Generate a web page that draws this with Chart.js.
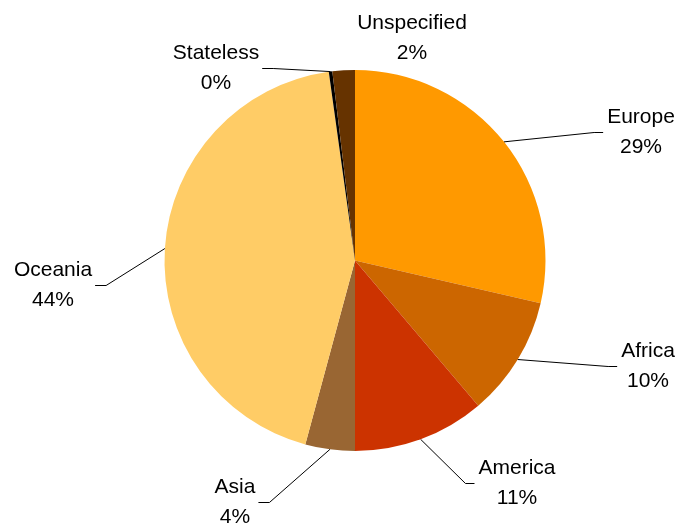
<!DOCTYPE html>
<html>
<head>
<meta charset="utf-8">
<script src="https://cdn.jsdelivr.net/npm/chart.js@4/dist/chart.umd.min.js"></script>
<style>
  html, body { margin: 0; padding: 0; background: #fff; }
  #wrap { width: 681px; height: 525px; }
</style>
</head>
<body>
<div id="wrap"><canvas id="pie"></canvas></div>
<script>
const regions = ['Europe', 'Africa', 'America', 'Asia', 'Oceania', 'Stateless', 'Unspecified'];
const shares = [28.6, 10.2, 11.2, 4.2, 43.6, 0.3, 1.9];
const sliceColors = ['#FF9900', '#CC6600', '#CC3300', '#996633', '#FFCC66', '#000000', '#663300'];

// where each label block sits, relative to the pie centre (px)
const labelPlaces = [[286, -131], [293, 103], [162, 220], [-120, 239], [-302, 22], [-139, -195], [57, -225]];
const withLeader = [true, true, true, true, true, true, false];

const labelPlugin = {
    id: 'sliceLabels',
    afterDatasetsDraw(chart) {
        const ctx = chart.ctx;
        const arcs = chart.getDatasetMeta(0).data;
        const values = chart.data.datasets[0].data;
        const total = values.reduce((a, b) => a + b, 0);
        ctx.save();
        ctx.font = '21px "Liberation Sans", Arial, sans-serif';
        ctx.fillStyle = '#000';
        ctx.textAlign = 'center';
        ctx.textBaseline = 'alphabetic';
        arcs.forEach((arc, i) => {
            const cx = arc.x + labelPlaces[i][0];
            const cy = arc.y + labelPlaces[i][1];
            const line1 = chart.data.labels[i];
            const line2 = Math.round(values[i] / total * 100) + '%';
            ctx.fillText(line1, cx, cy - 7);
            ctx.fillText(line2, cx, cy + 23);

            if (withLeader[i]) {
                const mid = (arc.startAngle + arc.endAngle) / 2;
                const px = arc.x + Math.cos(mid) * arc.outerRadius;
                const py = arc.y + Math.sin(mid) * arc.outerRadius;
                const half = Math.max(ctx.measureText(line1).width, ctx.measureText(line2).width) / 2;
                const right = cx > arc.x;
                const tx = right ? cx - half - 4 : cx + half + 3;
                const ty = cy + 3;
                const ex = right ? tx - 9 : tx + 11;
                ctx.beginPath();
                ctx.strokeStyle = '#000';
                ctx.lineWidth = 1;
                ctx.moveTo(px, py);
                ctx.lineTo(ex, ty);
                ctx.lineTo(tx, ty);
                ctx.stroke();
            }
        });
        ctx.restore();
    }
};

new Chart(document.getElementById('pie'), {
    type: 'pie',
    data: {
        labels: regions,
        datasets: [{
            data: shares,
            backgroundColor: sliceColors,
            borderWidth: 0
        }]
    },
    options: {
        responsive: true,
        maintainAspectRatio: false,
        animation: false,
        layout: { padding: { top: 70, bottom: 74, left: 100, right: 71 } },
        plugins: {
            legend: { display: false },
            tooltip: { enabled: false }
        }
    },
    plugins: [labelPlugin]
});
</script>
</body>
</html>
